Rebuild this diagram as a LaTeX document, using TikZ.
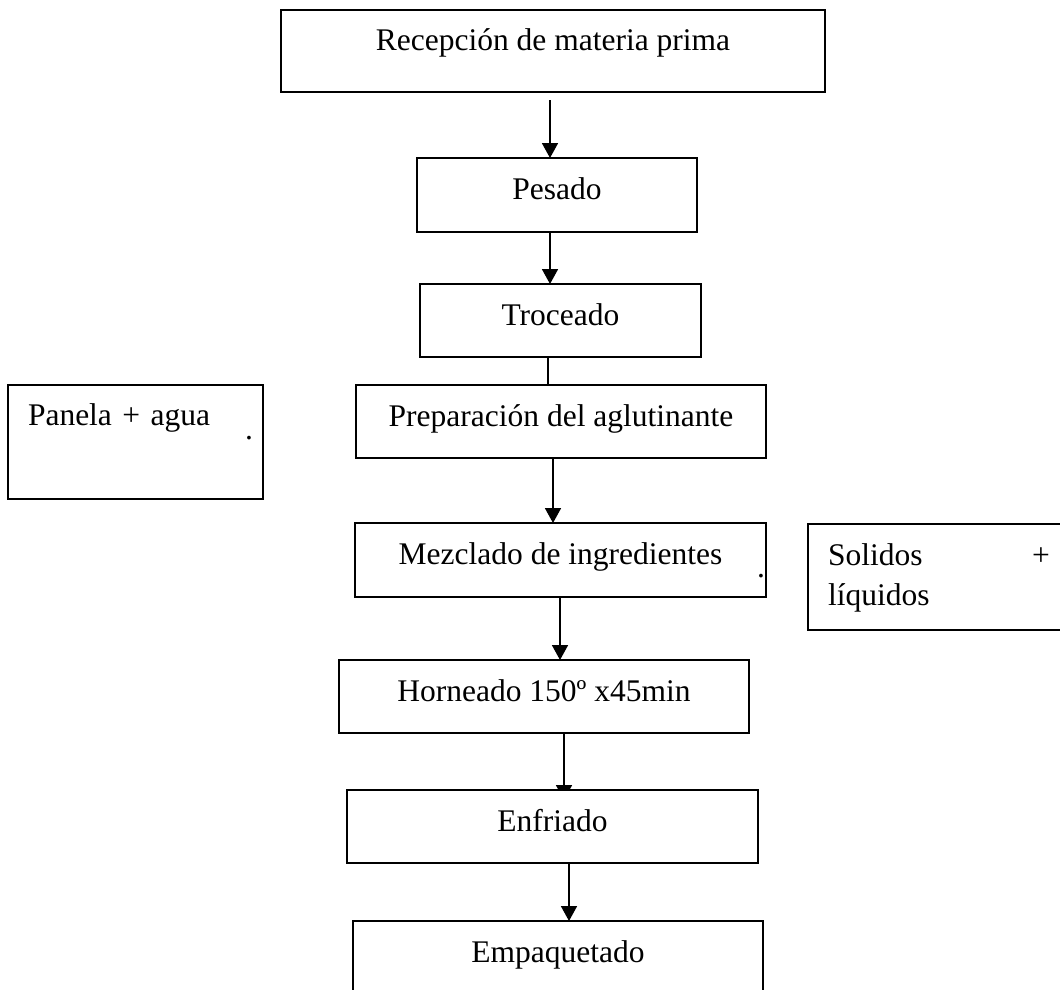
\documentclass[tikz,border=0pt]{standalone}
\usepackage{fontspec}
\setmainfont{Liberation Serif}
\usetikzlibrary{arrows.meta,backgrounds}
\begin{document}
\begin{tikzpicture}[x=1pt,y=-1pt,
  every node/.style={font=\fontsize{31.5}{40}\selectfont},
  box/.style={draw=black,line width=2pt,fill=white,rectangle,anchor=north west,
    inner xsep=0pt,inner ysep=0pt,outer sep=0pt,text height=41pt},
  arr/.style={line width=1.8pt,-{Triangle[width=16pt,length=15pt]}},
  ln/.style={line width=1.8pt}]
\useasboundingbox (0,0) rectangle (1060,989);
\node[box,minimum width=544pt,text height=40pt,text depth=42pt] (rec) at (281,10) {Recepción de materia prima};
\node[box,minimum width=280pt,text depth=33pt] (pes) at (417,158) {Pesado};
\node[box,minimum width=281pt,text depth=32pt] (tro) at (420,284) {Troceado};
\node[box,minimum width=410pt,text depth=32pt] (pre) at (356,385) {Preparación del aglutinante};
\node[box,minimum width=411pt,text depth=33pt] (mez) at (355,523) {Mezclado de ingredientes};
\node[box,minimum width=410pt,text depth=32pt] (hor) at (339,660) {Horneado 150º x45min};
\node[box,minimum width=411pt,text depth=32pt] (enf) at (347,790) {Enfriado};
\node[box,minimum width=410pt,text depth=40pt] (emp) at (353,921) {Empaquetado};
\node[box,inner xsep=20pt,text width=215pt,align=left,text height=40pt,text depth=74pt] (pan) at (8,385) {Panela + agua};
\node[box,inner xsep=20pt,text width=222pt,align=left,text height=41pt,text depth=65pt] (sol) at (808,524) {Solidos \hfill +\\líquidos};
\node[anchor=base,inner sep=0pt] (dot1) at (249,439) {.};
\node[anchor=base,inner sep=0pt] (dot2) at (761,577) {.};
\begin{scope}[on background layer]
\draw[arr] ([shift={(-3,8)}]rec.south) -- ([xshift=-7pt]pes.north);
\draw[arr] ([xshift=-7pt]pes.south) -- ([xshift=-10.5pt]tro.north);
\draw[ln] ([xshift=-12.5pt]tro.south) -- ([xshift=-13pt]pre.north);
\draw[arr] ([xshift=-8pt]pre.south) -- ([xshift=-7.5pt]mez.north);
\draw[arr] ([xshift=-0.5pt]mez.south) -- ([xshift=16pt]hor.north);
\draw[arr] ([xshift=20pt]hor.south) -- ([shift={(11.5,10)}]enf.north);
\draw[arr] ([xshift=16.5pt]enf.south) -- ([xshift=11pt]emp.north);
\end{scope}
\end{tikzpicture}
\end{document}
